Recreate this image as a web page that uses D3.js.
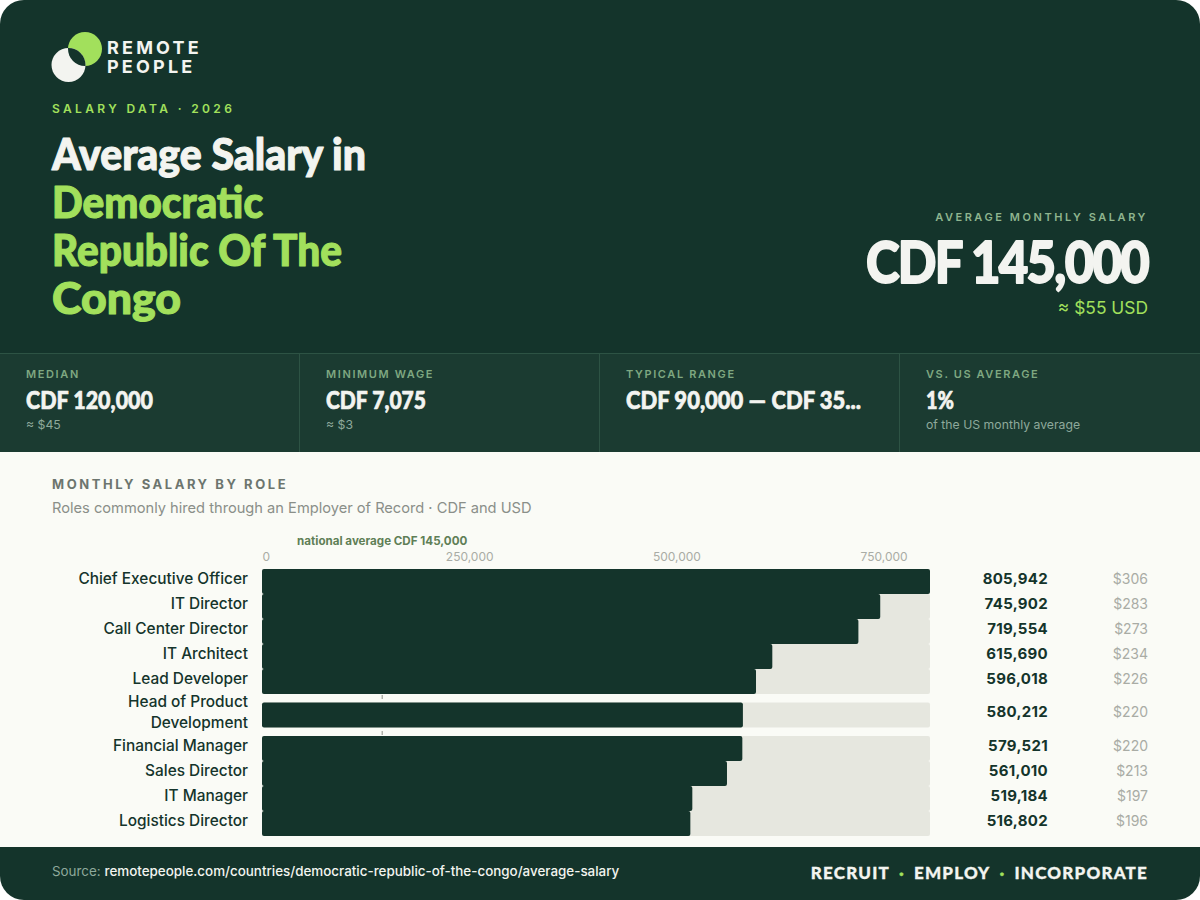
<!DOCTYPE html>
<meta charset="utf-8">
<style>
html, body { margin: 0; padding: 0; background: #fff; }
svg { display: block; }
text { font-family: Inter, sans-serif; }
.heavy { font-family: Lato, sans-serif; font-weight: 900; }
.axis text { font-family: Inter, sans-serif; font-size: 12px; fill: #a9aca5; }
.axis path, .axis line { display: none; }
</style>
<svg width="1200" height="900"></svg>
<script src="https://d3js.org/d3.v7.min.js"></script>
<script>
var roles = ["Chief Executive Officer", "IT Director", "Call Center Director", "IT Architect", "Lead Developer",
  "Head of Product|Development", "Financial Manager", "Sales Director", "IT Manager", "Logistics Director"];
var salaryCdf = [805942, 745902, 719554, 615690, 596018, 580212, 579521, 561010, 519184, 516802];
var salaryUsd = [306, 283, 273, 234, 226, 220, 220, 213, 197, 196];
var axisTicks = [0, 250000, 500000, 750000];
var nationalAverage = 145000;

var titleLines = ["Average Salary in", "Democratic", "Republic Of The", "Congo"];
var titleWidths = [314, 211, 290, 129];
var statLabels = ["MEDIAN", "MINIMUM WAGE", "TYPICAL RANGE", "VS. US AVERAGE"];
var statValues = ["CDF 120,000", "CDF 7,075", "CDF 90,000 — CDF 35...", "1%"];
var statWidths = [127, 100, 235, 28];
var statNotes = ["≈ $45", "≈ $3", "", "of the US monthly average"];

var dark = "#14342b", panel = "#1b3b31", green = "#a2e05c", paper = "#fafbf6", white = "#f3f4f0";

var svg = d3.select("svg");

function label(parent, x, y, txt, size, fill, opts) {
  opts = opts || {};
  return parent.append("text")
    .attr("x", x).attr("y", y)
    .attr("text-anchor", opts.anchor || "start")
    .attr("font-size", size)
    .attr("font-weight", opts.weight || 400)
    .attr("letter-spacing", opts.ls || 0)
    .attr("fill", fill)
    .text(txt);
}

// display type: squeezed to the measured width and thickened with a stroke
function heavy(parent, x, y, txt, size, fill, w, sw, ls) {
  return label(parent, x, y, txt, size, fill, {ls: ls})
    .attr("class", "heavy")
    .attr("textLength", w).attr("lengthAdjust", "spacingAndGlyphs")
    .attr("stroke", fill).attr("stroke-width", sw).attr("stroke-linejoin", "round");
}

var defs = svg.append("defs");
defs.append("clipPath").attr("id", "card")
  .append("rect").attr("width", 1200).attr("height", 900).attr("rx", 24);
defs.append("clipPath").attr("id", "lens")
  .append("circle").attr("cx", 85).attr("cy", 49).attr("r", 17);

var card = svg.append("g").attr("clip-path", "url(#card)");
card.append("rect").attr("width", 1200).attr("height", 900).attr("fill", paper);
card.append("rect").attr("width", 1200).attr("height", 353).attr("fill", dark);

// logo
card.append("circle").attr("cx", 85).attr("cy", 49).attr("r", 17).attr("fill", green);
card.append("circle").attr("cx", 68.5).attr("cy", 65).attr("r", 17).attr("fill", white);
card.append("circle").attr("cx", 68.5).attr("cy", 65).attr("r", 17).attr("fill", dark).attr("clip-path", "url(#lens)");
label(card, 107, 54, "REMOTE", 18, white, {weight: 700, ls: 3.2});
label(card, 107, 73, "PEOPLE", 18, white, {weight: 700, ls: 3.2});

label(card, 52, 113, "SALARY DATA · 2026", 12, green, {weight: 600, ls: 3.35});

titleLines.forEach(function(t, i) {
  heavy(card, 52, 170 + i * 48, t, 44, i == 0 ? white : green, titleWidths[i], 1.1);
});

label(card, 1148, 221, "AVERAGE MONTHLY SALARY", 11, "#8fb58f", {anchor: "end", weight: 600, ls: 2.55});
heavy(card, 866, 283, "CDF 145,000", 58, white, 282, 1.8, -2);
label(card, 1148, 314, "≈ $55 USD", 17.4, green, {anchor: "end"});

// stat strip
var strip = card.append("g");
strip.append("rect").attr("y", 353).attr("width", 1200).attr("height", 99).attr("fill", panel);
strip.append("rect").attr("y", 353).attr("width", 1200).attr("height", 1).attr("fill", "#2d5344");
statLabels.forEach(function(s, i) {
  var x = i * 300;
  if (i > 0) strip.append("rect").attr("x", x - 1).attr("y", 354).attr("width", 1).attr("height", 98).attr("fill", "#2d5344");
  label(strip, x + 26, 378, s, 11, "#7fa881", {weight: 600, ls: 1.62});
  heavy(strip, x + 26, 409, statValues[i], 25, white, statWidths[i], 0.7);
  label(strip, x + 26, 429, statNotes[i], 12.25, "#8ea99b");
});

// heading of the chart
label(card, 52, 489, "MONTHLY SALARY BY ROLE", 13, "#6c756e", {weight: 700, ls: 2.55});
label(card, 52, 513, "Roles commonly hired through an Employer of Record · CDF and USD", 14.65, "#8a8f89");

// rows: the wrapped label gets a taller row
var rowHeights = roles.map(function(r) { return r.indexOf("|") >= 0 ? 42 : 25; });
var rowTops = [569].concat(Array.from(d3.cumsum(rowHeights), function(h) { return 569 + h; }));

var x = d3.scaleLinear().domain([0, d3.max(salaryCdf)]).range([262, 930]);
var y = d3.scaleOrdinal().domain(roles).range(rowTops);
var barH = 25;

var rows = roles.map(function(r, i) {
  return {role: r, cdf: salaryCdf[i], usd: salaryUsd[i], mid: y(r) + rowHeights[i] / 2};
});

var axis = card.append("g").attr("class", "axis")
  .attr("transform", "translate(0,564)")
  .call(d3.axisTop(x).tickValues(axisTicks).tickSize(0).tickFormat(d3.format(",")));
axis.selectAll("text").attr("text-anchor", function(d) { return d == 0 ? "start" : "middle"; });

// reference line sits under the tracks, only shows in the gaps
card.append("line")
  .attr("x1", x(nationalAverage)).attr("x2", x(nationalAverage))
  .attr("y1", 569).attr("y2", 836)
  .attr("stroke", "#8a8d86").attr("stroke-width", 1).attr("stroke-dasharray", "4,5");
label(card, x(nationalAverage), 545, "national average CDF 145,000", 11.6, "#5f7f56", {anchor: "middle", weight: 700});

card.selectAll(".track").data(rows).enter().append("rect")
  .attr("class", "track")
  .attr("x", x(0)).attr("width", x.range()[1] - x(0))
  .attr("y", function(d) { return d.mid - barH / 2; }).attr("height", barH)
  .attr("rx", 2).attr("fill", "#e6e7df");

card.selectAll(".bar").data(rows).enter().append("rect")
  .attr("class", "bar")
  .attr("x", x(0)).attr("width", function(d) { return x(d.cdf) - x(0); })
  .attr("y", function(d) { return d.mid - barH / 2; }).attr("height", barH)
  .attr("rx", 2).attr("fill", dark);

rows.forEach(function(d) {
  var parts = d.role.split("|");
  parts.forEach(function(p, j) {
    var yy = d.mid + 2.5 + (j - (parts.length - 1) / 2) * 21;
    label(card, 248, yy, p, 15.4, dark, {anchor: "end", weight: 500});
  });
  label(card, 1048, d.mid + 2, d3.format(",")(d.cdf), 15, dark, {anchor: "end", weight: 700, ls: 0.3});
  label(card, 1148, d.mid + 2, "$" + d.usd, 14, "#a9aca5", {anchor: "end"});
});

// footer
card.append("rect").attr("y", 847).attr("width", 1200).attr("height", 53).attr("fill", dark);
var src = label(card, 52, 876, "Source: ", 13.4, "#8ea99b");
src.append("tspan").attr("fill", white).attr("font-weight", 500).text("remotepeople.com/countries/democratic-republic-of-the-congo/average-salary");

var foot = label(card, 1148, 879, "", 17, white, {anchor: "end", ls: 1.2})
  .attr("class", "heavy").attr("stroke", white).attr("stroke-width", 0.3);
foot.append("tspan").text("RECRUIT");
foot.append("tspan").attr("fill", green).attr("stroke", green).attr("dx", 9).text("·");
foot.append("tspan").attr("dx", 9).text("EMPLOY");
foot.append("tspan").attr("fill", green).attr("stroke", green).attr("dx", 9).text("·");
foot.append("tspan").attr("dx", 9).text("INCORPORATE");
</script>
